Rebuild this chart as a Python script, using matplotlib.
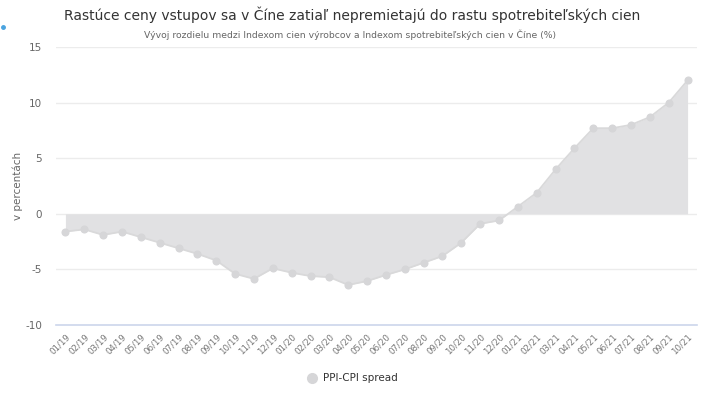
import matplotlib
matplotlib.use("Agg")
import matplotlib.pyplot as plt
from matplotlib.lines import Line2D

plt.rcParams['font.family'] = ['DejaVu Sans']

months = ["01/19", "02/19", "03/19", "04/19", "05/19", "06/19", "07/19", "08/19", "09/19", "10/19",
          "11/19", "12/19", "01/20", "02/20", "03/20", "04/20", "05/20", "06/20", "07/20", "08/20",
          "09/20", "10/20", "11/20", "12/20", "01/21", "02/21", "03/21", "04/21", "05/21", "06/21",
          "07/21", "08/21", "09/21", "10/21"]
spread = [-1.6, -1.4, -1.9, -1.6, -2.1, -2.6, -3.1, -3.6, -4.2, -5.4,
          -5.85, -4.9, -5.3, -5.6, -5.7, -6.4, -6.05, -5.5, -5.0, -4.4,
          -3.8, -2.6, -0.9, -0.6, 0.65, 1.9, 4.0, 5.9, 7.7, 7.7,
          8.0, 8.7, 10.0, 12.0]
yticks = [-10, -5, 0, 5, 10, 15]

title = "Rastúce ceny vstupov sa v Číne zatiaľ nepremietajú do rastu spotrebiteľských cien"
subtitle = "Vývoj rozdielu medzi Indexom cien výrobcov a Indexom spotrebiteľských cien v Číne (%)"
ylabel = "v percentách"
series_name = "PPI-CPI spread"

fig = plt.figure(figsize=(7.04, 4.0), dpi=100)
ax = fig.add_axes([56/704, 1-325/400, (697-56)/704, (325-47)/400])

x = list(range(len(months)))
ax.fill_between(x, spread, 0, color="#e1e1e3", lw=0, zorder=2)
ax.plot(x, spread, color="#d9d9da", lw=1.3, marker="o", ms=4.8,
        mfc="#d6d6d8", mec="#d6d6d8", zorder=3)

ax.set_xlim(-0.5, len(months) - 0.5)
ax.set_ylim(-10, 15)
ax.set_yticks(yticks)
ax.set_yticklabels([str(t) for t in yticks], color="#666666", fontsize=7.5)
ax.set_xticks(x)
ax.set_xticklabels(months, rotation=45, ha="right", rotation_mode="anchor",
                   color="#777777", fontsize=6.2)
ax.tick_params(axis="both", length=0)
ax.tick_params(axis="y", pad=10)
ax.tick_params(axis="x", pad=5)
for t in yticks:
    if t != -10:
        ax.axhline(t, color="#ececec", lw=1, zorder=1)
ax.axhline(-10, color="#ccd6eb", lw=1.2, zorder=4, clip_on=False)
for s in ax.spines.values():
    s.set_visible(False)

ax.set_ylabel(ylabel, color="#666666", fontsize=7.5)
ax.yaxis.set_label_coords(-0.052, 0.5)

fig.text(352/704, 1-15/400, title, ha="center", va="center", fontsize=10, color="#333333")
fig.text(350/704, 1-35/400, subtitle, ha="center", va="center", fontsize=6.7, color="#666666")

# legend
fig.lines.append(Line2D([312/704], [1-378/400], marker="o", ms=7, color="#d6d6d8",
                        transform=fig.transFigure, lw=0))
fig.text(323/704, 1-378/400, series_name, ha="left", va="center", fontsize=7.5, color="#333333")
# small blue dot at left edge
fig.lines.append(Line2D([3/704], [1-27/400], marker="o", ms=2.5, color="#4aa3df",
                        transform=fig.transFigure, lw=0))

fig.savefig("out.png", dpi=100, facecolor="white")
